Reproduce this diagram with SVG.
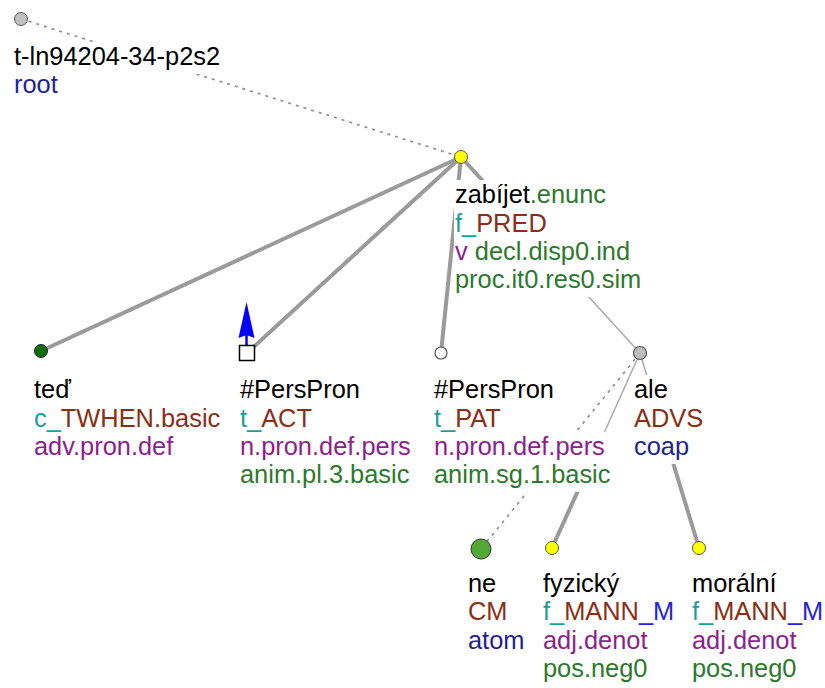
<svg xmlns="http://www.w3.org/2000/svg" width="825" height="688" viewBox="0 0 825 688">
<style>
text{font-family:"Liberation Sans",Arial,sans-serif;font-size:25.4px;}
.bg{fill:#fff;}
.e{stroke:#9a9a9a;stroke-width:4;fill:none;stroke-linecap:round;}
.t{stroke:#aaaaaa;stroke-width:1.5;fill:none;}
.d{stroke:#909090;stroke-width:1.7;stroke-dasharray:3 5;fill:none;}
.k{fill:#000;}
.tl{fill:#1e9c9c;}
.br{fill:#8a2e14;}
.pu{fill:#8e1e8e;}
.gr{fill:#2b7a2b;}
.db{fill:#1f1f95;}
.bl{fill:#2323e0;}
</style>
<g id="connectors">
<line class="d" x1="21" y1="19" x2="461" y2="157"/>
<line class="e" x1="461" y1="157" x2="41" y2="351"/>
<line class="e" x1="461" y1="157" x2="247" y2="353"/>
<line class="e" x1="461" y1="157" x2="441" y2="353"/>
<line class="e" x1="461" y1="157" x2="550.5" y2="255"/>
<line class="t" x1="550.5" y1="255" x2="640" y2="353"/>
<line class="t" x1="640" y1="353" x2="596" y2="451"/>
<line class="e" x1="596" y1="451" x2="552" y2="548"/>
<line class="t" x1="640" y1="353" x2="669.5" y2="451"/>
<line class="e" x1="669.5" y1="451" x2="699" y2="548"/>
<line class="d" x1="640" y1="353" x2="481" y2="549"/>
</g>
<g id="n-root">
<rect class="bg" x="13" y="42" width="210" height="32"/>
<rect class="bg" x="13" y="70" width="47" height="32"/>
<text x="14" y="65" class="k">t-ln94204-34-p2s2</text>
<text x="14" y="93" class="db">root</text>
<circle cx="21" cy="19" r="6.5" fill="#c0c0c0" stroke="#555" stroke-width="1"/>
</g>
<g id="n-zabijet">
<rect class="bg" x="454" y="180" width="153" height="32"/>
<rect class="bg" x="454" y="208.5" width="94" height="32"/>
<rect class="bg" x="454" y="237" width="178" height="32"/>
<rect class="bg" x="454" y="265" width="189" height="32"/>
<text x="455" y="203"><tspan class="k">zabíjet</tspan><tspan class="gr">.enunc</tspan></text>
<text x="455" y="231.5"><tspan class="tl">f_</tspan><tspan class="br">PRED</tspan></text>
<text x="455" y="260"><tspan class="pu">v</tspan><tspan class="gr"> decl.disp0.ind</tspan></text>
<text x="455" y="288" class="gr">proc.it0.res0.sim</text>
<circle cx="461" cy="157" r="6.5" fill="#ffff00" stroke="#555" stroke-width="1"/>
</g>
<g id="n-ted">
<rect class="bg" x="33" y="375" width="40" height="32"/>
<rect class="bg" x="33" y="403.5" width="189" height="32"/>
<rect class="bg" x="33" y="432" width="144" height="32"/>
<text x="34" y="398" class="k">teď</text>
<text x="34" y="426.5"><tspan class="tl">c_</tspan><tspan class="br">TWHEN.basic</tspan></text>
<text x="34" y="455" class="pu">adv.pron.def</text>
<circle cx="41" cy="351" r="6.5" fill="#0a6e0a" stroke="#222" stroke-width="1"/>
</g>
<g id="n-act">
<rect class="bg" x="239" y="375" width="122" height="32"/>
<rect class="bg" x="239" y="403.5" width="74" height="32"/>
<rect class="bg" x="239" y="432" width="173" height="32"/>
<rect class="bg" x="239" y="460" width="177" height="32"/>
<text x="240" y="398" class="k">#PersPron</text>
<text x="240" y="426.5"><tspan class="tl">t_</tspan><tspan class="br">ACT</tspan></text>
<text x="240" y="455" class="pu">n.pron.def.pers</text>
<text x="240" y="483" class="gr">anim.pl.3.basic</text>
<line x1="246.5" y1="345" x2="246.5" y2="333" stroke="#0000ff" stroke-width="2.5"/>
<polygon points="246.5,302 238.5,338 246.5,335 254.5,338" fill="#0000ff"/>
<rect x="239.5" y="345.5" width="15" height="15" fill="#fff" stroke="#000" stroke-width="1.5"/>
</g>
<g id="n-pat">
<rect class="bg" x="433" y="375" width="122" height="32"/>
<rect class="bg" x="433" y="403.5" width="73" height="32"/>
<rect class="bg" x="433" y="432" width="173" height="32"/>
<rect class="bg" x="433" y="460" width="184" height="32"/>
<text x="434" y="398" class="k">#PersPron</text>
<text x="434" y="426.5"><tspan class="tl">t_</tspan><tspan class="br">PAT</tspan></text>
<text x="434" y="455" class="pu">n.pron.def.pers</text>
<text x="434" y="483" class="gr">anim.sg.1.basic</text>
<circle cx="441" cy="353" r="6" fill="#fff" stroke="#555" stroke-width="1.2"/>
</g>
<g id="n-ale">
<rect class="bg" x="633" y="375" width="37" height="32"/>
<rect class="bg" x="633" y="403.5" width="72" height="32"/>
<rect class="bg" x="633" y="432" width="57" height="32"/>
<text x="634" y="398" class="k">ale</text>
<text x="634" y="426.5" class="br">ADVS</text>
<text x="634" y="455" class="db">coap</text>
<circle cx="640" cy="353" r="6.5" fill="#bdbdbd" stroke="#555" stroke-width="1.2"/>
</g>
<g id="n-ne">
<rect class="bg" x="467" y="569" width="31" height="32"/>
<rect class="bg" x="467" y="597" width="42" height="32"/>
<rect class="bg" x="467" y="625.5" width="59" height="32"/>
<text x="468" y="592" class="k">ne</text>
<text x="468" y="620" class="br">CM</text>
<text x="468" y="648.5" class="db">atom</text>
<circle cx="481" cy="549" r="10" fill="#52a832" stroke="#333" stroke-width="1"/>
</g>
<g id="n-fyzicky">
<rect class="bg" x="542" y="569" width="79" height="32"/>
<rect class="bg" x="542" y="597" width="133" height="32"/>
<rect class="bg" x="542" y="625.5" width="107" height="32"/>
<rect class="bg" x="542" y="654" width="107" height="32"/>
<text x="543" y="592" class="k">fyzický</text>
<text x="543" y="620"><tspan class="tl">f_</tspan><tspan class="br">MANN</tspan><tspan class="bl">_M</tspan></text>
<text x="543" y="648.5" class="pu">adj.denot</text>
<text x="543" y="677" class="gr">pos.neg0</text>
<circle cx="552" cy="548" r="6.5" fill="#ffff00" stroke="#555" stroke-width="1"/>
</g>
<g id="n-moralni">
<rect class="bg" x="691" y="569" width="88" height="32"/>
<rect class="bg" x="691" y="597" width="133" height="32"/>
<rect class="bg" x="691" y="625.5" width="107" height="32"/>
<rect class="bg" x="691" y="654" width="107" height="32"/>
<text x="692" y="592" class="k">morální</text>
<text x="692" y="620"><tspan class="tl">f_</tspan><tspan class="br">MANN</tspan><tspan class="bl">_M</tspan></text>
<text x="692" y="648.5" class="pu">adj.denot</text>
<text x="692" y="677" class="gr">pos.neg0</text>
<circle cx="699" cy="548" r="6.5" fill="#ffff00" stroke="#555" stroke-width="1"/>
</g>
</svg>
